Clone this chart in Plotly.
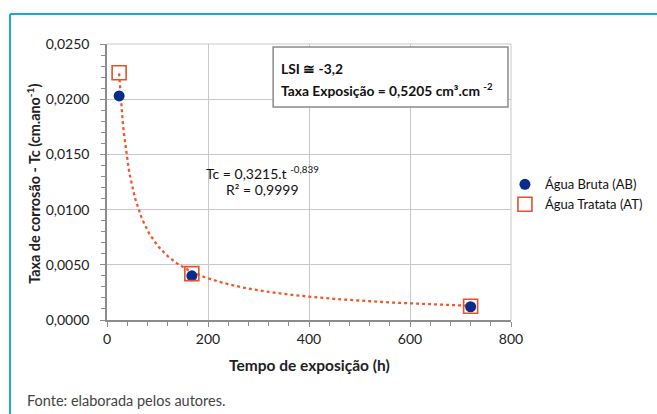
import numpy as np
import plotly.graph_objects as go

# Data
tempo_h = [24, 168, 720]
ab_tc = [0.0203, 0.0040, 0.0012]
at_tc = [0.0224, 0.0042, 0.00125]
x_ticks = [0, 200, 400, 600, 800]
y_ticks = [0.0, 0.005, 0.010, 0.015, 0.020, 0.025]
y_tick_labels = ["0,0000", "0,0050", "0,0100", "0,0150", "0,0200", "0,0250"]

# Trendline parameters shown in the chart (Tc = a.t^b)
trend_a = 0.3215
trend_b = -0.839

t_line = np.linspace(tempo_h[0], tempo_h[-1], 300)
tc_line = trend_a * t_line ** trend_b

FONT = "Lato, Open Sans, sans-serif"

fig = go.Figure()
fig.add_trace(go.Scatter(x=t_line, y=tc_line, mode="lines",
                         line=dict(color="#F0582A", width=2.3, dash="dot"),
                         showlegend=False, hoverinfo="skip"))
fig.add_trace(go.Scatter(x=tempo_h, y=ab_tc, mode="markers", name="Água Bruta (AB)",
                         marker=dict(symbol="circle", size=11, color="#0A2D8C")))
fig.add_trace(go.Scatter(x=tempo_h, y=at_tc, mode="markers", name="Água Tratata (AT)",
                         marker=dict(symbol="square-open", size=14, color="#E5512A",
                                     line=dict(width=1.6))))

fig.update_xaxes(range=[0, 800], tickvals=x_ticks, ticktext=[str(v) for v in x_ticks],
                 showgrid=True, gridcolor="#C8C8C8", gridwidth=1,
                 showline=True, linecolor="#8C8C8C", linewidth=1.5, mirror=False,
                 ticks="outside", ticklen=5, tickcolor="#8C8C8C",
                 minor=dict(dtick=40, ticks="outside", ticklen=4, tickcolor="#8C8C8C", showgrid=False),
                 tickfont=dict(family=FONT, size=14, color="#222"),
                 zeroline=False)
fig.update_yaxes(range=[0, 0.025], tickvals=y_ticks, ticktext=y_tick_labels,
                 showgrid=True, gridcolor="#C8C8C8", gridwidth=1,
                 showline=True, linecolor="#8C8C8C", linewidth=1.5,
                 ticks="outside", ticklen=5, tickcolor="#8C8C8C", ticklabelstandoff=8,
                 minor=dict(dtick=0.001, ticks="outside", ticklen=4, tickcolor="#8C8C8C", showgrid=False),
                 tickfont=dict(family=FONT, size=14, color="#222"),
                 zeroline=False)

shapes = [
    # outer frame lines (blue)
    dict(type="line", xref="paper", yref="paper", x0=-0.2401, x1=1.37, y0=1.1087, y1=1.1087,
         line=dict(color="#1BA8DC", width=2)),
    dict(type="line", xref="paper", yref="paper", x0=-0.2401, x1=-0.2401, y0=1.1087, y1=-0.36,
         line=dict(color="#1BA8DC", width=2)),
    # plot top/right border
    dict(type="line", xref="paper", yref="paper", x0=0, x1=1, y0=1, y1=1,
         line=dict(color="#C8C8C8", width=1)),
    dict(type="line", xref="paper", yref="paper", x0=1, x1=1, y0=0, y1=1,
         line=dict(color="#C8C8C8", width=1)),
    # info box
    dict(type="rect", xref="x", yref="y", x0=329, x1=794, y0=0.01929, y1=0.02473,
         line=dict(color="#8A8A8A", width=1.5), fillcolor="white", layer="above"),
]

annotations = [
    dict(x=-0.181, y=0.493, xref="paper", yref="paper", xanchor="center", yanchor="middle",
         showarrow=False, textangle=-90,
         text="<b>Taxa de corrosão - Tc (cm.ano<sup>-1</sup>)</b>",
         font=dict(family=FONT, size=14.4, color="#222")),
    dict(x=0.5, y=-0.163, xref="paper", yref="paper", xanchor="center", yanchor="middle",
         showarrow=False, text="<b>Tempo de exposição (h)</b>",
         font=dict(family=FONT, size=15.5, color="#222")),
    dict(x=340, y=0.02275, xref="x", yref="y", xanchor="left", yanchor="middle", showarrow=False,
         align="left", text="<b>LSI ≅ -3,2</b>", font=dict(family=FONT, size=13.8, color="#111")),
    dict(x=340, y=0.02085, xref="x", yref="y", xanchor="left", yanchor="middle", showarrow=False,
         align="left", text="<b>Taxa Exposição = 0,5205 cm³.cm <sup>-2</sup></b>",
         font=dict(family=FONT, size=13.8, color="#111")),
    dict(x=308, y=0.0134, xref="x", yref="y", xanchor="center", yanchor="middle", showarrow=False,
         text="Tc = 0,3215.t <sup>-0,839</sup>", font=dict(family=FONT, size=14, color="#111")),
    dict(x=308, y=0.0118, xref="x", yref="y", xanchor="center", yanchor="middle", showarrow=False,
         text="R² = 0,9999", font=dict(family=FONT, size=14, color="#111")),
    dict(x=-0.203, y=-0.29, xref="paper", yref="paper", xanchor="left", yanchor="middle", showarrow=False,
         text="Fonte: elaborada pelos autores.", font=dict(family=FONT, size=14.5, color="#444")),
]

fig.update_layout(
    width=657, height=414,
    margin=dict(l=107, r=146, t=44, b=94, autoexpand=False),
    paper_bgcolor="white", plot_bgcolor="white",
    shapes=shapes, annotations=annotations,
    legend=dict(x=0.985, y=0.455, xanchor="left", yanchor="middle",
                font=dict(family=FONT, size=13, color="#111"),
                itemwidth=30, tracegroupgap=4, bgcolor="rgba(0,0,0,0)"),
    font=dict(family=FONT),
)

fig.write_html("out.html", config={"displayModeBar": False},
               post_script="document.body.style.margin='0';document.body.style.padding='0';")
